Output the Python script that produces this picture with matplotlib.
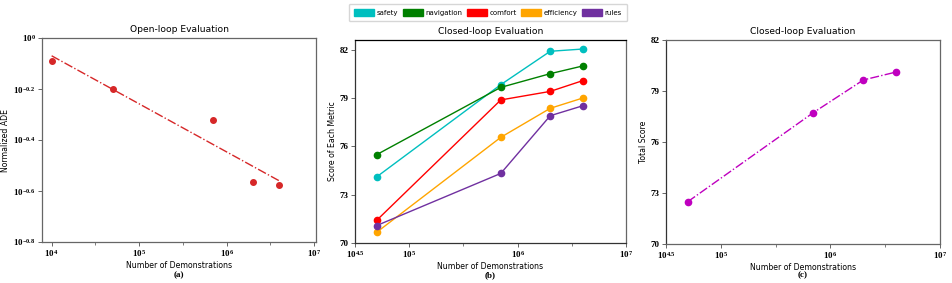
import numpy as np
import matplotlib
matplotlib.use("Agg")
import matplotlib.pyplot as plt
from matplotlib.patches import Patch

plt.rcParams['mathtext.fontset'] = 'custom'
plt.rcParams['mathtext.rm'] = 'Liberation Serif:bold'
plt.rcParams['mathtext.it'] = 'Liberation Serif:italic:bold'
plt.rcParams['mathtext.bf'] = 'Liberation Serif:bold'
plt.rcParams['font.family'] = 'DejaVu Sans'

# ---- data ----
ol_demos = [1e4, 5e4, 7e5, 2e6, 4e6]
ol_log_ade = [-0.092, -0.200, -0.321, -0.564, -0.576]

cl_demos = [5e4, 7e5, 2e6, 4e6]
metric_names = ["safety", "navigation", "comfort", "efficiency", "rules"]
safety = [74.10, 79.83, 81.90, 82.04]
navigation = [75.48, 79.66, 80.51, 80.99]
comfort = [71.40, 78.88, 79.41, 80.08]
efficiency = [70.66, 76.56, 78.36, 79.00]
rules = [71.08, 74.32, 77.90, 78.52]
total_score = [72.49, 77.73, 79.65, 80.12]

metric_colors = ["#00bfbf", "#008000", "#ff0000", "#ffa500", "#7030a0"]

fig = plt.figure(figsize=(9.52, 2.83), dpi=100)
W, H = 952, 283

def add_ax(l, r, t, b):
    return fig.add_axes([l / W, 1 - b / H, (r - l) / W, (b - t) / H])

axa = add_ax(42, 316, 38, 242)
axb = add_ax(355, 626, 40, 243)
axc = add_ax(666, 940, 40, 244)

spine_col = '#666666'

def style(ax):
    for s in ax.spines.values():
        s.set_color(spine_col)
        s.set_linewidth(0.9)
    ax.tick_params(axis='both', which='major', length=3, width=0.7, color=spine_col, pad=1.5,
                   labelsize=6.5)
    ax.tick_params(axis='both', which='minor', length=2, width=0.6, color=spine_col)
    for lbl in ax.get_yticklabels() + ax.get_xticklabels():
        lbl.set_family('Liberation Serif')
        lbl.set_weight('bold')

title_fs = 6.6
label_fs = 5.6

# ---- (a) ----
lx = np.log10(ol_demos)
axa.scatter(lx, ol_log_ade, s=16, color='#d62728', zorder=3)
coef = np.polyfit(lx, ol_log_ade, 1)
xx = np.array([lx[0], lx[-1]])
axa.plot(xx, np.polyval(coef, xx), '-.', color='#d62728', lw=1)
axa.set_xlim(3.89, 7.02)
axa.set_ylim(-0.8, 0)
axa.set_xticks([4, 5, 6, 7])
axa.set_xticklabels([r'$10^{%d}$' % v for v in [4, 5, 6, 7]])
axa.set_xticks([4.5, 5.5, 6.5], minor=True)
yt = [0, -0.2, -0.4, -0.6, -0.8]
axa.set_yticks(yt)
axa.set_yticklabels([r'$10^{0}$'] + [r'$10^{%.1f}$' % v for v in yt[1:]])
axa.set_title("Open-loop Evaluation", fontsize=title_fs, pad=4)
axa.set_xlabel("Number of Demonstrations", fontsize=label_fs, labelpad=1)
axa.set_ylabel("Normalized ADE", fontsize=label_fs, labelpad=2)
style(axa)

# ---- (b) ----
cx = np.log10(cl_demos)
series = [safety, navigation, comfort, efficiency, rules]
for vals, col in zip(series, metric_colors):
    axb.plot(cx, vals, '-o', color=col, lw=1, ms=4.5)
axb.set_xlim(4.5, 7)
axb.set_ylim(70, 82.6)
axb.set_yticks([70, 73, 76, 79, 82])
axb.set_xticks([4.5, 5, 6, 7])
axb.set_xticklabels([r'$10^{4.5}$', r'$10^{5}$', r'$10^{6}$', r'$10^{7}$'])
axb.set_xticks([5.5, 6.5], minor=True)
axb.set_title("Closed-loop Evaluation", fontsize=title_fs, pad=4)
axb.set_xlabel("Number of Demonstrations", fontsize=label_fs, labelpad=1)
axb.set_ylabel("Score of Each Metric", fontsize=label_fs, labelpad=2)
style(axb)
axb.spines['top'].set_color('black')
axb.spines['left'].set_color('#333333')
axb.spines['bottom'].set_color('#333333')

# ---- (c) ----
axc.plot(cx, total_score, '-.o', color='#bf00bf', lw=1, ms=4.5)
axc.set_xlim(4.5, 7)
axc.set_ylim(70, 82)
axc.set_yticks([70, 73, 76, 79, 82])
axc.set_xticks([4.5, 5, 6, 7])
axc.set_xticklabels([r'$10^{4.5}$', r'$10^{5}$', r'$10^{6}$', r'$10^{7}$'])
axc.set_xticks([5.5, 6.5], minor=True)
axc.set_title("Closed-loop Evaluation", fontsize=title_fs, pad=4)
axc.set_xlabel("Number of Demonstrations", fontsize=label_fs, labelpad=1)
axc.set_ylabel("Total Score", fontsize=label_fs, labelpad=2)
style(axc)
axc.spines['left'].set_color('#333333')

# sub-captions
for ax, t in zip([axa, axb, axc], ["(a)", "(b)", "(c)"]):
    pos = ax.get_position()
    fig.text(pos.x0 + pos.width / 2, 1 - 275 / H, t, ha='center', va='center',
             fontsize=6.5, family='Liberation Serif', weight='bold')

# legend
handles = [Patch(facecolor=c, edgecolor=c) for c in metric_colors]
fig.legend(handles, metric_names, loc='center', bbox_to_anchor=(488 / W, 1 - 12.5 / H),
           ncol=5, fontsize=5, handlelength=2.9, handleheight=1.2, columnspacing=0.6,
           handletextpad=0.4, borderpad=0.75, frameon=True, fancybox=True)

fig.savefig("out.png", dpi=100)
